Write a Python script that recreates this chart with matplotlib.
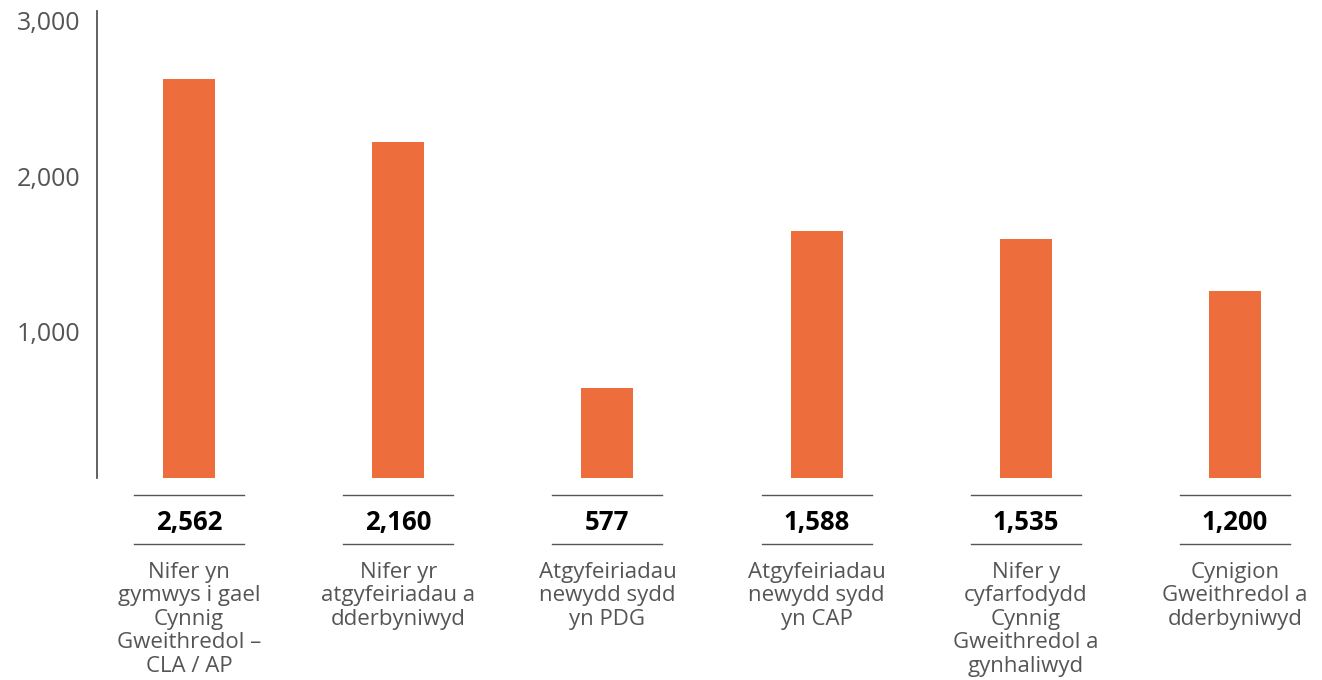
import matplotlib.pyplot as plt

categories = [
    "Nifer yn\ngymwys i gael\nCynnig\nGweithredol –\nCLA / AP",
    "Nifer yr\natgyfeiriadau a\ndderbyniwyd",
    "Atgyfeiriadau\nnewydd sydd\nyn PDG",
    "Atgyfeiriadau\nnewydd sydd\nyn CAP",
    "Nifer y\ncyfarfodydd\nCynnig\nGweithredol a\ngynhaliwyd",
    "Cynigion\nGweithredol a\ndderbyniwyd",
]
values = [2562, 2160, 577, 1588, 1535, 1200]
yticks = [1000, 2000, 3000]

plt.rcParams['font.family'] = ['Open Sans', 'DejaVu Sans']

BAR = '#ED6D3D'
GREY = '#555555'

fig = plt.figure(figsize=(13.22, 6.8), dpi=100)
ax = fig.add_axes([97 / 1322, 202 / 680, 1 - 97 / 1322, 467 / 680])

x = list(range(len(values)))
ax.bar(x, values, width=0.249, color=BAR)
ax.set_xlim(-0.44, 5.416)
ax.set_ylim(0, 3000)

for s in ['top', 'right', 'bottom']:
    ax.spines[s].set_visible(False)
ax.spines['left'].set_color(GREY)
ax.spines['left'].set_linewidth(1.3)
ax.set_xticks([])
ax.set_yticks(yticks)
ax.set_yticklabels([f"{v:,}" for v in yticks])
ax.tick_params(axis='y', length=0, pad=12, labelsize=18, labelcolor=GREY)
for lbl in ax.get_yticklabels():
    lbl.set_va('top')

# pixel offsets below the axis, converted to data units
per_px = 3000 / 467


def below(px):
    return -px * per_px


for i, v in enumerate(values):
    for py in (17, 66):
        ax.plot([i - 0.263, i + 0.263], [below(py), below(py)],
                color=GREY, lw=1.0, clip_on=False)
    ax.text(i, below(52), f"{v:,}", ha='center', va='baseline',
            fontsize=18.5, fontweight='bold', color='black')
    ax.text(i, below(84), categories[i], ha='center', va='top',
            fontsize=16, color=GREY, linespacing=1.15)

fig.savefig('out.png', dpi=100)
